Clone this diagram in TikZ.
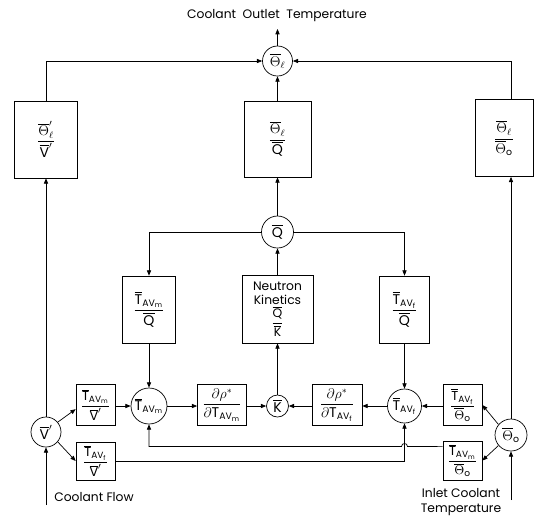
\documentclass[tikz,border=0pt]{standalone}
\usepackage{amsmath}
\usepackage{fontspec}
\setmainfont{Poppins}
\usetikzlibrary{arrows.meta,calc}
\newcommand\myTm{\overline{\mathrm{T}}_{\mathrm{AV}_{\mathrm{m}}}}
\newcommand\myTf{\overline{\mathrm{T}}_{\mathrm{AV}_{\mathrm{f}}}}
\newcommand\myThl{\overline{\Theta}_{\ell}}
\newcommand\myTho{\overline{\Theta}_{\mathrm{o}}}
\newcommand\myVp{\overline{\mathrm{V}}'}
\newcommand\myQb{\overline{\mathrm{Q}}}
\newcommand\myKb{\overline{\mathrm{K}}}
\tikzset{
  bx/.style 2 args={draw, minimum width=#1*0.03cm, minimum height=#2*0.03cm, inner sep=0pt},
  circ/.style={draw, circle, minimum size=#1*0.06cm, inner sep=0pt},
  ar/.style={-{Triangle[length=4.5pt,width=3.6pt]}},
  lbl/.style={font=\fontsize{10.5}{13.5}\selectfont},
  sm/.style={font=\fontsize{11}{13}\selectfont}
}
\begin{document}
\begin{tikzpicture}[x=0.03cm,y=-0.03cm,line width=0.6pt,font=\fontsize{12}{14}\selectfont]
\path[use as bounding box] (0,0) rectangle (536,518);
% top
\node[lbl] (title) at (277,16) {Coolant\ \ Outlet\ \ Temperature};
\coordinate (titlein) at (277.5,29);
\node[circ=15] (thl) at (277.5,61) {$\myThl$};
\node[bx={63}{77}] (bl) at (46,139.5) {$\dfrac{\overline{\Theta}'_{\ell}}{\myVp}$};
\node[bx={67}{76}] (bc) at (277.5,139) {$\dfrac{\myThl}{\myQb}$};
\node[bx={58}{77}] (br) at (504,138) {$\dfrac{\myThl}{\myTho}$};
% middle
\node[circ=16] (q) at (277.5,232) {$\myQb$};
\node[bx={53}{67}] (tmq) at (149,309.5) {$\dfrac{\myTm}{\myQb}$};
\node[bx={71}{68}, align=center, font=\fontsize{10.5}{12}\selectfont] (nk) at (277.5,309) {Neutron\\Kinetics\\[1pt]$\dfrac{\myQb}{\myKb}$};
\node[bx={50}{67}] (tfq) at (404.5,309.5) {$\dfrac{\myTf}{\myQb}$};
% bottom row
\node[circ=18] (tm) at (149,406) {$\myTm$};
\node[circ=17] (tf) at (404.5,406) {$\myTf$};
\node[bx={49}{41}] (drm) at (222,405) {$\dfrac{\partial\rho^{*}}{\partial\mathrm{T}_{\mathrm{AV}_{\mathrm{m}}}}$};
\node[circ=11] (k) at (277.5,406) {$\myKb$};
\node[bx={50}{41}] (drf) at (337,405) {$\dfrac{\partial\rho^{*}}{\partial\mathrm{T}_{\mathrm{AV}_{\mathrm{f}}}}$};
\node[bx={39}{41}, sm] (tmv) at (95.5,405) {$\dfrac{\myTm}{\myVp}$};
\node[bx={39}{38}, sm] (tfv) at (95.5,461) {$\dfrac{\myTf}{\myVp}$};
\node[bx={39}{41}, sm] (tfo) at (462.5,405) {$\dfrac{\myTf}{\myTho}$};
\node[bx={39}{39}, sm] (tmo) at (462.5,460.5) {$\dfrac{\myTm}{\myTho}$};
\node[circ=15] (v) at (46,432) {$\myVp$};
\node[circ=16] (tho) at (511,435) {$\myTho$};
\node[lbl] (cf) at (94,497) {Coolant\ Flow};
\node[lbl, align=center] (ict) at (461,502) {Inlet\ Coolant\\Temperature};
\coordinate (cfin) at (46,505);
\coordinate (ictin) at (511,500);
% connectors top
\draw[ar] (thl.north) -- (titlein);
\draw[ar] (bl.north) |- (thl.west);
\draw[ar] (tho.north |- br.north) |- (thl.east);
\draw[ar] (bc.north) -- (thl.south);
\draw[ar] (q.north) -- (bc.south);
\draw[ar] (nk.north) -- (q.south);
\draw[ar] (q.west) -| (tmq.north);
\draw[ar] (q.east) -| (tfq.north);
\draw[ar] (tmq.south) -- (tm.north);
\draw[ar] (tfq.south) -- (tf.north);
% bottom row
\draw[ar] (tmv.east |- tm.west) -- (tm.west);
\draw[ar] (tm.east) -- (drm.west |- tm.east);
\draw[ar] (drm.east |- k.west) -- (k.west);
\draw[ar] (drf.west |- k.east) -- (k.east);
\draw[ar] (tf.west) -- (drf.east |- tf.west);
\draw[ar] (tfo.west |- tf.east) -- (tf.east);
\draw[ar] (k.north) -- (nk.south);
\draw[ar] (v.north) -- (bl.south);
\draw[ar] (tho.north) -- (tho.north |- br.south);
\draw[ar] (v.40) -- ($(tmv.north west)!0.6!(tmv.south west)$);
\draw[ar] (v.-40) -- (tfv.west);
\draw[ar] (tho.140) -- (tfo.east);
\draw[ar] (tho.-140) -- (tmo.east);
% feedback
\draw[ar] ($(tmo.north west)!0.15!(tmo.south west)$) -- (407.5,446.5) .. controls (407.5,442.5) and (401.5,442.5) .. (401.5,446.5) -| (tm.south);
\draw[ar] (tfv.east) -| (tf.south);
% inputs
\draw[ar] (cfin) -- (v.south);
\draw[ar] (ictin) -- (tho.south);
\end{tikzpicture}
\end{document}
